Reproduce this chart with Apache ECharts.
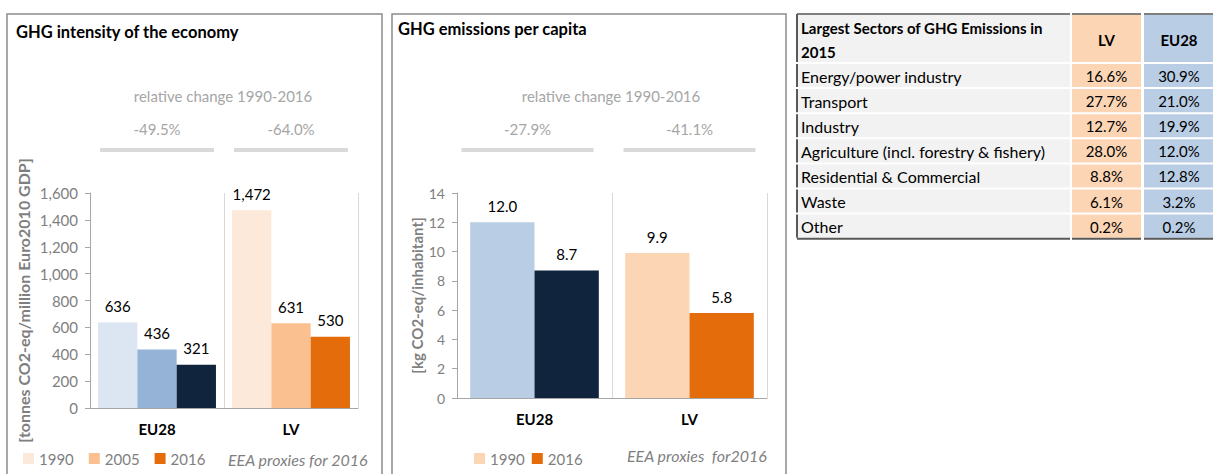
<!DOCTYPE html>
<html>
<head>
<meta charset="utf-8">
<script src="https://cdn.jsdelivr.net/npm/echarts@6/dist/echarts.min.js"></script>
<style>
  html, body { margin: 0; padding: 0; background: #fff; }
  #chart { width: 1213px; height: 474px; }
</style>
</head>
<body>
<div id="chart"></div>
<script>
// --- data ---
const categories = ['EU28', 'LV'];

const intensityYears = ['1990', '2005', '2016'];
const intensity1990 = [636, 1472];
const intensity2005 = [436, 631];
const intensity2016 = [321, 530];
const intensityChange = ['-49.5%', '-64.0%'];
const intensityMax = 1600;
const intensityStep = 200;

const capitaYears = ['1990', '2016'];
const capita1990 = [12.0, 9.9];
const capita2016 = [8.7, 5.8];
const capitaChange = ['-27.9%', '-41.1%'];
const capitaMax = 14;
const capitaStep = 2;

const sectorTitle = ['Largest Sectors of GHG Emissions in', '2015'];
const sectorCols = ['LV', 'EU28'];
const sectorNames = ['Energy/power industry', 'Transport', 'Industry',
  'Agriculture (incl. forestry & fishery)', 'Residential & Commercial', 'Waste', 'Other'];
const sectorLV = ['16.6%', '27.7%', '12.7%', '28.0%', '8.8%', '6.1%', '0.2%'];
const sectorEU28 = ['30.9%', '21.0%', '19.9%', '12.0%', '12.8%', '3.2%', '0.2%'];

// --- styles ---
const FONT = 'Lato, "Open Sans", sans-serif';
const euIntensity = ['#dce6f2', '#95b3d7', '#10243e'];
const lvIntensity = ['#fde9d9', '#fac090', '#e46c0a'];
const euCapita = ['#b9cde5', '#10243e'];
const lvCapita = ['#fcd5b5', '#e46c0a'];

const chart = echarts.init(document.getElementById('chart'), null, { renderer: 'svg' });

function barSeries(name, values, euColor, lvColor, idx, gap, fmt) {
  return {
    type: 'bar', name: name,
    xAxisIndex: idx, yAxisIndex: idx,
    barGap: '0%', barCategoryGap: gap,
    itemStyle: { color: lvColor },
    data: values.map((v, i) => ({ value: v, itemStyle: { color: i === 0 ? euColor : lvColor } })),
    label: {
      show: true, position: 'top', distance: 9,
      color: '#000', fontFamily: FONT, fontSize: 15,
      formatter: p => fmt(p.value)
    },
    silent: true
  };
}

function catAxis(idx) {
  return {
    type: 'category', gridIndex: idx, data: categories,
    axisLine: { lineStyle: { color: '#a6a6a6' } },
    axisTick: { length: 5, lineStyle: { color: '#a6a6a6' } },
    splitLine: { show: true, lineStyle: { color: '#d9d9d9' } },
    axisLabel: { color: '#000', fontWeight: 'bold', fontSize: 15, fontFamily: FONT, margin: 13 }
  };
}

function valAxis(idx, max, step, name, gap, nameSize, fmt) {
  return {
    type: 'value', gridIndex: idx, min: 0, max: max, interval: step,
    axisLine: { show: true, lineStyle: { color: '#a6a6a6' } },
    axisTick: { show: true, length: 5, lineStyle: { color: '#a6a6a6' } },
    splitLine: { show: false },
    axisLabel: { color: '#7f7f7f', fontSize: idx ? 14 : 15, fontFamily: FONT, margin: 12, formatter: fmt },
    name: name, nameLocation: 'middle', nameGap: gap,
    nameTextStyle: { color: '#7f7f7f', fontWeight: 'bold', fontSize: nameSize, fontFamily: FONT }
  };
}

const fmtInt = v => Number(v).toLocaleString('en-US');
const fmtOne = v => Number(v).toFixed(1);

const option = {
  animation: false,
  grid: [
    { left: 90, right: 855, top: 193, bottom: 66 },
    { left: 457, right: 446, top: 193, bottom: 76 }
  ],
  xAxis: [catAxis(0), catAxis(1)],
  yAxis: [
    valAxis(0, intensityMax, intensityStep, '[tonnes CO2-eq/million Euro2010 GDP]', 59, 16, fmtInt),
    valAxis(1, capitaMax, capitaStep, '[kg CO2-eq/inhabitant]', 32, 15, v => v)
  ],
  legend: [
    {
      left: 18, top: 446, itemWidth: 11, itemHeight: 11, itemGap: 15, icon: 'rect',
      textStyle: { color: '#7f7f7f', fontSize: 15, fontFamily: FONT },
      data: intensityYears.map((y, i) => ({ name: y, itemStyle: { color: lvIntensity[i] } })),
      selectedMode: false
    },
    {
      left: 469, top: 446, itemWidth: 11, itemHeight: 11, itemGap: 7, icon: 'rect',
      textStyle: { color: '#7f7f7f', fontSize: 15, fontFamily: FONT },
      data: capitaYears.map((y, i) => ({ name: y, itemStyle: { color: lvCapita[i] } })),
      selectedMode: false
    }
  ],
  series: [
    barSeries(intensityYears[0], intensity1990, euIntensity[0], lvIntensity[0], 0, '12%', fmtInt),
    barSeries(intensityYears[1], intensity2005, euIntensity[1], lvIntensity[1], 0, '12%', fmtInt),
    barSeries(intensityYears[2], intensity2016, euIntensity[2], lvIntensity[2], 0, '12%', fmtInt),
    barSeries(capitaYears[0], capita1990, euCapita[0], lvCapita[0], 1, '17%', fmtOne),
    barSeries(capitaYears[1], capita2016, euCapita[1], lvCapita[1], 1, '17%', fmtOne)
  ]
};
chart.setOption(option);

// --- annotations and the table, placed after the axes exist ---
const g = [];
function txt(text, x, y, opts) {
  g.push({
    type: 'text', silent: true,
    style: Object.assign({
      text: text, x: x, y: y, fill: '#000', fontSize: 15, fontFamily: FONT,
      align: 'left', verticalAlign: 'middle'
    }, opts || {})
  });
}
function rect(x, y, w, h, style) {
  g.push({ type: 'rect', silent: true, shape: { x: x, y: y, width: w, height: h }, style: style });
}
function line(x1, y1, x2, y2, stroke, width) {
  g.push({ type: 'line', silent: true, shape: { x1: x1, y1: y1, x2: x2, y2: y2 },
    style: { stroke: stroke, lineWidth: width } });
}

// panel frames
rect(7, 14, 375, 480, { fill: 'none', stroke: '#8c8c8c', lineWidth: 1.5 });
rect(392, 14, 394, 480, { fill: 'none', stroke: '#8c8c8c', lineWidth: 1.5 });

// titles
txt('GHG intensity of the economy', 16, 32, { fontWeight: 'bold', fontSize: 16.5 });
txt('GHG emissions per capita', 398, 29, { fontWeight: 'bold', fontSize: 16.5 });

// relative change headers
[[0, intensityChange, 57, 0], [1, capitaChange, 66, -7]].forEach(([idx, changes, half, shift]) => {
  const xs = categories.map(c => chart.convertToPixel({ xAxisIndex: idx }, c));
  const mid = (xs[0] + xs[1]) / 2;
  txt('relative change 1990-2016', mid - 1, 96, { fill: '#a6a6a6', align: 'center' });
  changes.forEach((s, i) => {
    const cx = xs[i] + (i === 0 ? shift : 0);
    txt(s, cx, 129, { fill: '#a6a6a6', align: 'center' });
    line(cx - half, 150, cx + half, 150, '#d9d9d9', 4);
  });
});

// source notes
txt('EEA proxies for 2016', 228, 459, { fill: '#7f7f7f', fontStyle: 'italic', fontSize: 16 });
txt('EEA proxies  for2016', 627, 455, { fill: '#7f7f7f', fontStyle: 'italic', fontSize: 16 });

// table
const colX = [797, 1072, 1144];
const colW = [273, 69, 70];
const colFill = ['#f2f2f2', '#fcd5b5', '#b9cde5'];
const headTop = 14, headH = 48, rowTop = 64, rowH = 25.1;

colX.forEach((x, c) => {
  rect(x, headTop, colW[c], headH, { fill: colFill[c] });
  line(x, headTop, x + colW[c], headTop, '#7f7f7f', 2);
});
txt(sectorTitle[0], 801, 28, { fontWeight: 'bold' });
txt(sectorTitle[1], 801, 52, { fontWeight: 'bold' });
sectorCols.forEach((s, c) => {
  txt(s, colX[c + 1] + colW[c + 1] / 2, 40, { fontWeight: 'bold', align: 'center' });
});
line(797, headTop, 797, headTop + headH, '#595959', 2);

sectorNames.forEach((name, r) => {
  const y = rowTop + r * rowH;
  colX.forEach((x, c) => rect(x, y, colW[c], rowH - 2, { fill: colFill[c] }));
  line(797, y, 797, y + rowH - 2, '#595959', 2);
  txt(name, 801, y + rowH / 2 - 0.5, { fontSize: 16 });
  txt(sectorLV[r], colX[1] + colW[1] / 2, y + rowH / 2 - 0.5, { align: 'center' });
  txt(sectorEU28[r], colX[2] + colW[2] / 2, y + rowH / 2 - 0.5, { align: 'center' });
});
const tableBottom = rowTop + sectorNames.length * rowH - 1;
colX.forEach((x, c) => line(x, tableBottom, x + colW[c], tableBottom, '#595959', 2));

chart.setOption({ graphic: g });
</script>
</body>
</html>
